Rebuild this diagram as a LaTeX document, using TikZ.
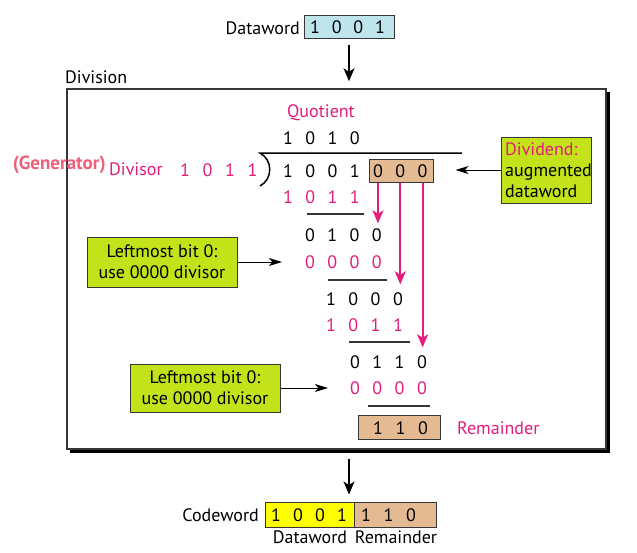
\documentclass[tikz,border=0pt]{standalone}
\usepackage{fontspec}
\setmainfont{PT Sans}
\usetikzlibrary{arrows.meta,calc}
\definecolor{pk}{RGB}{228,28,122}
\definecolor{gen}{RGB}{238,96,120}
\definecolor{grn}{RGB}{196,226,26}
\definecolor{tanc}{RGB}{228,186,146}
\definecolor{cyn}{RGB}{190,228,236}
\definecolor{ylw}{RGB}{255,255,0}
\definecolor{edgec}{RGB}{55,55,55}
\begin{document}
\begin{tikzpicture}[x=1pt,y=-1pt,
  every node/.style={font=\fontsize{18}{21}\selectfont, inner sep=0pt},
  bit/.style={anchor=center},
  pbit/.style={anchor=center, text=pk},
  bitbox/.style={draw=edgec, line width=1pt},
  notebox/.style={draw=edgec, line width=1pt, fill=grn},
  rule/.style={draw=edgec, line width=1.3pt},
  blkarrow/.style={draw=black, line width=1.2pt, -{Stealth[length=13pt,width=11pt,inset=3.5pt]}},
  sidearrow/.style={draw=black, line width=1pt, -{Stealth[length=13pt,width=8pt,inset=3.5pt]}},
  pkarrow/.style={draw=pk, line width=2pt, -{Stealth[length=13pt,width=11pt,inset=3.5pt]}}]
\useasboundingbox (0,0) rectangle (637,552);

% top dataword
\node[anchor=east] (dwlbl) at (300,28) {Dataword};
\node[bitbox, fill=cyn, minimum width=90pt, minimum height=23pt] (dwbox) at (349,26.5) {};
\foreach \d [count=\i] in {1,0,0,1} \node[bit] (dw\i) at ({315+21.7*(\i-1)},27) {\d};

% division frame
\node[anchor=west] (divlbl) at (65,77) {Division};
\draw[line width=3pt, black] (608.5,92) -- (608.5,451) -- (70,451);
\node[draw=edgec, line width=1.5pt, minimum width=539pt, minimum height=360pt] (bigbox) at (336.5,269) {};

\draw[blkarrow] ([yshift=-6pt]dwbox.south) -- ([yshift=7pt]dwbox.south |- bigbox.north);

% quotient
\node[text=pk] (quot) at (321,113) {Quotient};
\foreach \d [count=\i] in {1,0,1,0} \node[bit] (q\i) at ({288+22.3*(\i-1)},138) {\d};

% divisor
\node[anchor=east, text=gen, font=\fontsize{19}{22}\selectfont\bfseries] (genlbl) at (106,165) {(Generator)};
\node[anchor=west, text=pk] (divsr) at (109,169) {Divisor};
\foreach \d [count=\i] in {1,0,1,1} \node[pbit] (g\i) at ({185+22.5*(\i-1)},170) {\d};

% division bracket
\coordinate (brtop) at (260,153);
\coordinate (brbot) at (260,186);
\coordinate (barend) at (462,153);
\draw[line width=1.5pt] (barend) -- (brtop) .. controls (273,160) and (273,179) .. (brbot);

% dividend
\foreach \d [count=\i] in {1,0,0,1} \node[bit] (v\i) at ({288+22.3*(\i-1)},171) {\d};
\node[bitbox, fill=tanc, minimum width=64pt, minimum height=23pt] (augbox) at (401,171) {};
\foreach \d [count=\i] in {0,0,0} \node[bit] (a\i) at ({378+22.3*(\i-1)},171) {\d};

% rows
\foreach \d [count=\i] in {1,0,1,1} \node[pbit] (r1\i) at ({288+22.3*(\i-1)},197) {\d};
\coordinate (l1a) at (307,214); \coordinate (l1b) at (364,214);
\draw[rule] (l1a) -- (l1b);
\foreach \d [count=\i] in {0,1,0,0} \node[bit] (r2\i) at ({310+22.3*(\i-1)},235) {\d};
\foreach \d [count=\i] in {0,0,0,0} \node[pbit] (r3\i) at ({310+22.3*(\i-1)},262) {\d};
\coordinate (l2a) at (328,280); \coordinate (l2b) at (387,280);
\draw[rule] (l2a) -- (l2b);
\foreach \d [count=\i] in {1,0,0,0} \node[bit] (r4\i) at ({331+22.3*(\i-1)},299) {\d};
\foreach \d [count=\i] in {1,0,1,1} \node[pbit] (r5\i) at ({331+22.3*(\i-1)},325) {\d};
\coordinate (l3a) at (349,342); \coordinate (l3b) at (410,342);
\draw[rule] (l3a) -- (l3b);
\foreach \d [count=\i] in {0,1,1,0} \node[bit] (r6\i) at ({355+22.3*(\i-1)},362) {\d};
\foreach \d [count=\i] in {0,0,0,0} \node[pbit] (r7\i) at ({355+22.3*(\i-1)},388) {\d};
\coordinate (l4a) at (368,406); \coordinate (l4b) at (430,406);
\draw[rule] (l4a) -- (l4b);

% remainder
\node[bitbox, fill=tanc, minimum width=82pt, minimum height=24pt] (rembox) at (399,427.5) {};
\foreach \d [count=\i] in {1,1,0} \node[bit] (m\i) at ({378+22.5*(\i-1)},428) {\d};
\node[anchor=west, text=pk] (remlbl) at (457,428) {Remainder};

% pink arrows
\draw[pkarrow] (a1 |- augbox.south) -- ([yshift=5pt]a1 |- r24.north);
\draw[pkarrow] (a2 |- augbox.south) -- ([yshift=8pt]a2 |- r44.north);
\draw[pkarrow] (a3 |- augbox.south) -- ([yshift=8pt]a3 |- r64.north);

% dividend note
\node[notebox, minimum width=90pt, minimum height=66pt] (divnote) at (546,170) {};
\node[anchor=west, align=left] (divtxt) at (505,170) {\textcolor{pk}{Dividend:}\\augmented\\dataword};
\draw[sidearrow] (divnote.west) -- ([xshift=22pt]augbox.east |- divnote.west);

% leftmost notes
\node[notebox, minimum width=150pt, minimum height=50pt, align=center] (lm1) at (162,262) {Leftmost bit 0:\\use 0000 divisor};
\draw[sidearrow] (lm1.east) -- ([xshift=-23pt]lm1.east -| r31.west);
\node[notebox, minimum width=150pt, minimum height=48pt, align=center] (lm2) at (205,388) {Leftmost bit 0:\\use 0000 divisor};
\draw[sidearrow] (lm2.east) -- ([xshift=-22pt]lm2.east -| r71.west);

% codeword
\node[bitbox, fill=ylw, minimum width=89pt, minimum height=25pt] (cwy) at (309.5,514.5) {};
\node[bitbox, fill=tanc, minimum width=82pt, minimum height=25pt] (cwt) at (395,514.5) {};
\foreach \d [count=\i] in {1,0,0,1} \node[bit] (c\i) at ({276+22*(\i-1)},515) {\d};
\foreach \d [count=\i] in {1,1,0} \node[bit] (k\i) at ({366+22.5*(\i-1)},515) {\d};
\node[anchor=east] (cwlbl) at (259,515) {Codeword};
\node (cwdl) at (310,537) {Dataword};
\node (cwrl) at (396,537) {Remainder};

\draw[blkarrow] ([yshift=-9pt]dwbox.south |- bigbox.south) -- ([yshift=7pt]dwbox.south |- cwy.north);
\end{tikzpicture}
\end{document}
